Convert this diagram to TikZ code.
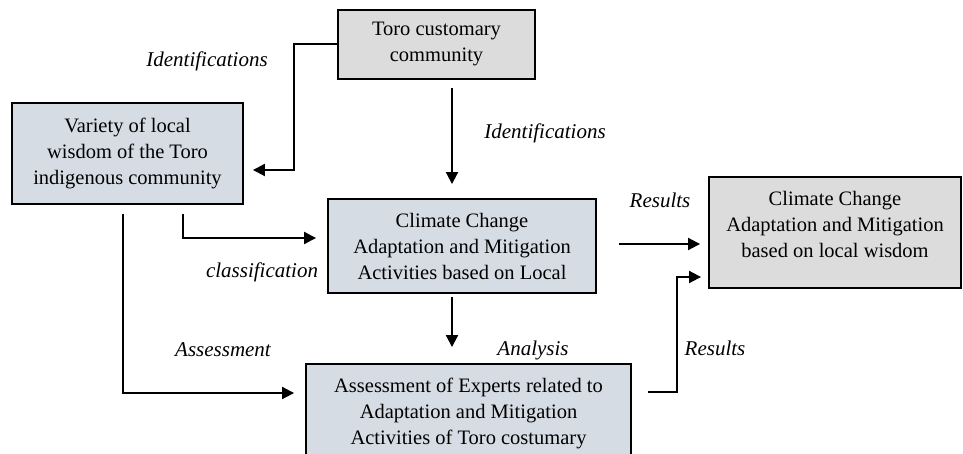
\documentclass[tikz,border=0pt]{standalone}
\usepackage{fontspec}
\setmainfont{Liberation Serif}
\usetikzlibrary{arrows.meta,positioning}
\definecolor{boxblue}{HTML}{D6DCE4}
\definecolor{boxgray}{HTML}{DCDCDC}

\begin{document}
\begin{tikzpicture}[
  x=1pt, y=-1pt,
  stage/.style={
    rectangle, draw=black, line width=1.9pt, inner sep=0pt,
    align=center, font=\fontsize{20.5}{26}\selectfont
  },
  bluestage/.style={stage, fill=boxblue},
  graystage/.style={stage, fill=boxgray},
  tag/.style={font=\fontsize{21}{25}\selectfont\itshape, inner sep=0pt},
  arrow/.style={-{Triangle[length=12pt,width=12pt]}, line width=2pt, draw=black}
]
\useasboundingbox (0,0) rectangle (963,454);
\clip (0,0) rectangle (963,454);
% Boxes
\node[graystage, minimum width=197pt, minimum height=69pt]  (toro)       at (436.5,44.5) {Toro customary\\community};
\node[bluestage, minimum width=231pt, minimum height=101pt] (variety)    at (127.5,153.5) {Variety of local\\wisdom of the Toro\\indigenous community};
\node[bluestage, minimum width=268pt, minimum height=94pt]  (activities) at (462,246) {Climate Change\\Adaptation and Mitigation\\Activities based on Local};
\node[bluestage, minimum width=325pt, minimum height=98pt]  (experts)    at (468.5,413) {Assessment of Experts related to\\Adaptation and Mitigation\\Activities of Toro costumary};
\node[graystage, minimum width=252pt, minimum height=111pt] (result)     at (835,232.5) {};
\node[stage, draw=none] (resulttext) at ([yshift=8pt]result.center) {Climate Change\\Adaptation and Mitigation\\based on local wisdom};
% Labels
\node[tag] (idleft)    at (207,61)  {Identifications};
\node[tag] (idmid)     at (545,133) {Identifications};
\node[tag] (restop)    at (660,200) {Results};
\node[tag] (class)     at (262,272) {classification};
\node[tag] (assess)    at (223,350) {Assessment};
\node[tag] (analysis)  at (533,350) {Analysis};
\node[tag] (resbottom) at (715,348) {Results};
% Arrows
\draw[arrow] (toro.west) -- ++(-43,0) |- ([xshift=9pt,yshift=-16.5pt]variety.east);
\draw[arrow] ([xshift=15.5pt,yshift=-8pt]toro.south) -- ([xshift=-10pt,yshift=14pt]activities.north);
\draw[arrow] ([xshift=55.5pt,yshift=-9pt]variety.south) |- ([xshift=-11pt,yshift=8pt]activities.west);
\draw[arrow] ([xshift=-4.5pt,yshift=-9pt]variety.south) |- ([xshift=-11pt,yshift=20pt]experts.west);
\draw[arrow] ([xshift=-10pt,yshift=-3pt]activities.south) -- ([xshift=-16.5pt,yshift=16pt]experts.north);
\draw[arrow] ([xshift=22pt,yshift=2pt]activities.east) -- ([xshift=-8pt,yshift=-11.5pt]result.west);
\draw[arrow] ([xshift=16pt,yshift=21pt]experts.east) -- ++(29,0) |- ([xshift=-7pt,yshift=-44.5pt]result.west);
\end{tikzpicture}
\end{document}
